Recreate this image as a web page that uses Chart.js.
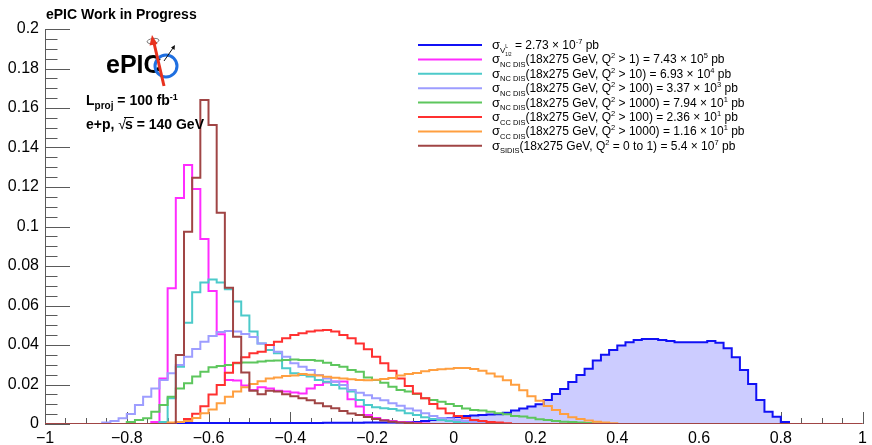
<!DOCTYPE html>
<html>
<head>
<meta charset="utf-8">
<title>ePIC Work in Progress</title>
<script src="https://cdn.jsdelivr.net/npm/chart.js@4.4.1/dist/chart.umd.min.js"></script>
<style>
  html, body { margin: 0; padding: 0; background: #fff; }
  #wrap { width: 872px; height: 445px; }
</style>
</head>
<body>
<div id="wrap"><canvas id="etaChart" width="872" height="445"></canvas></div>
<script>
// 100 bins of 0.02 between -1 and 1
const X_MIN = -1;
const X_MAX = 1;
const BIN_W = 0.02;
const N_BINS = 100;

const xTicks = [-1, -0.8, -0.6, -0.4, -0.2, 0, 0.2, 0.4, 0.6, 0.8, 1];
const yTicks = [0, 0.02, 0.04, 0.06, 0.08, 0.1, 0.12, 0.14, 0.16, 0.18, 0.2];

// each histogram: low edge of its first listed bin + normalised counts
const sigFrom = -0.70;
const sigCounts = [
  0.0004, 0.0004, 0.0005, 0.0005, 0.0005, 0.0005, 0.0005, 0.0005, 0.0005, 0.0005,
  0.0005, 0.0005, 0.0005, 0.0005, 0.0005, 0.0005, 0.0005, 0.0005, 0.0005, 0.0006,
  0.0006, 0.0006, 0.0006, 0.0006, 0.0007, 0.0007, 0.0007, 0.0008, 0.0008, 0.0009,
  0.001, 0.0015, 0.002, 0.0025, 0.003, 0.0035, 0.004, 0.0043, 0.0046, 0.0048,
  0.005, 0.0057, 0.0068, 0.0079, 0.0088, 0.0100, 0.0122, 0.0152, 0.0177, 0.0213,
  0.0248, 0.028, 0.0321, 0.0351, 0.0375, 0.0398, 0.0414, 0.0425, 0.043, 0.043,
  0.0425, 0.042, 0.0414, 0.0414, 0.0414, 0.0414, 0.042, 0.0412, 0.0383, 0.0338,
  0.0273, 0.0203, 0.0122, 0.0062, 0.0037, 0.001
];

const nc1From = -0.74;
const nc1Counts = [
  0.001, 0.0231, 0.0687, 0.1144, 0.1311, 0.119, 0.0937, 0.0673, 0.0454, 0.0223,
  0.022, 0.0195, 0.0172, 0.0186, 0.018, 0.0168, 0.0164, 0.016, 0.0155, 0.018,
  0.0197, 0.021, 0.0215, 0.0215, 0.0125, 0.0088, 0.0046, 0.003, 0.002, 0.0015,
  0.001, 0.0007, 0.0005, 0.0003
];

const nc10From = -0.72;
const nc10Counts = [
  0.001, 0.013, 0.029, 0.0513, 0.0667, 0.0717, 0.0732, 0.0717, 0.0682, 0.062,
  0.0549, 0.0468, 0.0408, 0.0375, 0.0358, 0.0282, 0.0257, 0.0248, 0.024, 0.0223,
  0.0214, 0.0197, 0.018, 0.0164, 0.0122, 0.0096, 0.0085, 0.008, 0.0076, 0.0068,
  0.0054, 0.0046, 0.0034, 0.0025, 0.002, 0.0015, 0.001, 0.0007, 0.0005, 0.0003
];

const nc100From = -0.86;
const nc100Counts = [
  0.0008, 0.0015, 0.0029, 0.0051, 0.0096, 0.0138, 0.018, 0.0223, 0.0257, 0.0299,
  0.0341, 0.038, 0.0417, 0.0446, 0.0466, 0.0471, 0.0468, 0.0456, 0.044, 0.0408,
  0.040, 0.0366, 0.0341, 0.0307, 0.029, 0.0273, 0.0248, 0.0231, 0.0214, 0.0197,
  0.0172, 0.0158, 0.0145, 0.013, 0.012, 0.0105, 0.0093, 0.0079, 0.0068, 0.0054,
  0.004, 0.003, 0.0028, 0.002, 0.0015, 0.001, 0.0007, 0.0004
];

const nc1000From = -0.80;
const nc1000Counts = [
  0.001, 0.002, 0.0029, 0.0062, 0.0096, 0.0138, 0.018, 0.0206, 0.024, 0.0265,
  0.0287, 0.0294, 0.0299, 0.0307, 0.0311, 0.0312, 0.0316, 0.032, 0.0322, 0.0324,
  0.0326, 0.0324, 0.0324, 0.032, 0.031, 0.0299, 0.029, 0.0273, 0.0265, 0.0236,
  0.0223, 0.0209, 0.0189, 0.0172, 0.0165, 0.0152, 0.013, 0.0122, 0.0113, 0.0101,
  0.0091, 0.0079, 0.0071, 0.0068, 0.0062, 0.0054, 0.005, 0.004, 0.0038, 0.0032,
  0.0024, 0.002, 0.0015, 0.0012, 0.001, 0.0007, 0.0005, 0.0003
];

const cc100From = -0.68;
const cc100Counts = [
  0.001, 0.0025, 0.0052, 0.009, 0.015, 0.0197, 0.026, 0.031, 0.0338, 0.0358,
  0.0366, 0.040, 0.0417, 0.0434, 0.0451, 0.0459, 0.0468, 0.0473, 0.0476, 0.0468,
  0.0451, 0.0434, 0.0408, 0.0378, 0.0341, 0.0307, 0.027, 0.0231, 0.0192, 0.0155,
  0.013, 0.0101, 0.0079, 0.0055, 0.004, 0.003, 0.002, 0.0015, 0.001, 0.0007,
  0.0004
];

const cc1000From = -0.70;
const cc1000Counts = [
  0.0008, 0.001, 0.0015, 0.003, 0.0054, 0.0074, 0.0105, 0.0138, 0.0164, 0.0186,
  0.0202, 0.0216, 0.0231, 0.0236, 0.0243, 0.0246, 0.0253, 0.0249, 0.0246, 0.0239,
  0.0234, 0.0231, 0.0226, 0.0223, 0.0221, 0.0224, 0.0228, 0.0233, 0.0246, 0.0253,
  0.0258, 0.0267, 0.0273, 0.0277, 0.028, 0.0283, 0.0284, 0.0279, 0.0269, 0.0256,
  0.0241, 0.0221, 0.0199, 0.0171, 0.0141, 0.0118, 0.0091, 0.0071, 0.0051, 0.0034,
  0.0025, 0.0018, 0.0012, 0.0008, 0.0004
];

const sidisFrom = -0.68;
const sidisCounts = [
  0.0349, 0.0974, 0.1247, 0.164, 0.1514, 0.107, 0.069, 0.0442, 0.0261, 0.0168,
  0.0151, 0.0168, 0.0164, 0.0151, 0.014, 0.013, 0.012, 0.0105, 0.009, 0.008,
  0.0066, 0.0053, 0.0045, 0.0035, 0.0025, 0.0018, 0.0012, 0.0008, 0.0005, 0.0003
];

const FONT = "'Liberation Sans', Arial, Helvetica, sans-serif";
const AXIS_COLOR = '#5a5a5a';
const SIG_FILL = '#ccccff';

// drawing order follows the list: first one at the bottom, last one on top
const series = [
  { from: sigFrom, counts: sigCounts, color: '#1111f5' },
  { from: nc1From, counts: nc1Counts, color: '#ff2cff' },
  { from: nc10From, counts: nc10Counts, color: '#4ccaca' },
  { from: nc100From, counts: nc100Counts, color: '#9d9dff' },
  { from: nc1000From, counts: nc1000Counts, color: '#5dc65d' },
  { from: cc100From, counts: cc100Counts, color: '#ff3030' },
  { from: cc1000From, counts: cc1000Counts, color: '#ff9f40' },
  { from: sidisFrom, counts: sidisCounts, color: '#a04545' },
];

function fillBins(from, counts) {
  const out = new Array(N_BINS).fill(0);
  const first = Math.round((from - X_MIN) / BIN_W);
  counts.forEach((c, i) => { out[first + i] = c; });
  return out;
}

// one point per low bin edge, plus the closing edge; drawn with stepped 'before'
function histPoints(from, counts) {
  const full = fillBins(from, counts);
  const pts = full.map((c, i) => ({ x: X_MIN + i * BIN_W, y: c }));
  pts.push({ x: X_MAX, y: full[N_BINS - 1] });
  return pts;
}

// -- rich text (sub/superscripts) -------------------------------------------
const txt = (t, size = 12) => ({ t, size });
const lo = (t, size = 7.5) => ({ t, size, dy: 3.5 });
const hi = (t, size = 7.5) => ({ t, size, dy: -5 });
const SIGMA = { t: 'σ', size: 13 };

function drawRich(ctx, x, y, parts, bold = false) {
  for (const p of parts) {
    ctx.font = `${p.bold ?? bold ? 'bold ' : ''}${p.size}px ${FONT}`;
    ctx.fillText(p.t, x, y + (p.dy || 0));
    if (p.adv !== false) x += ctx.measureText(p.t).width;
  }
  return x;
}

const legendRows = [
  [SIGMA, { t: 'V', size: 8, dy: 4 }, { t: 'L', size: 5, dy: -1, adv: false }, { t: '1/2', size: 4.5, dy: 7 },
    txt(' = 2.73 × 10'), hi('-7'), txt(' pb')],
  [SIGMA, lo('NC DIS'), txt('(18x275 GeV, Q'), hi('2'), txt(' > 1) = 7.43 × 10'), hi('5'), txt(' pb')],
  [SIGMA, lo('NC DIS'), txt('(18x275 GeV, Q'), hi('2'), txt(' > 10) = 6.93 × 10'), hi('4'), txt(' pb')],
  [SIGMA, lo('NC DIS'), txt('(18x275 GeV, Q'), hi('2'), txt(' > 100) = 3.37 × 10'), hi('3'), txt(' pb')],
  [SIGMA, lo('NC DIS'), txt('(18x275 GeV, Q'), hi('2'), txt(' > 1000) = 7.94 × 10'), hi('1'), txt(' pb')],
  [SIGMA, lo('CC DIS'), txt('(18x275 GeV, Q'), hi('2'), txt(' > 100) = 2.36 × 10'), hi('1'), txt(' pb')],
  [SIGMA, lo('CC DIS'), txt('(18x275 GeV, Q'), hi('2'), txt(' > 1000) = 1.16 × 10'), hi('1'), txt(' pb')],
  [SIGMA, lo('SIDIS'), txt('(18x275 GeV, Q'), hi('2'), txt(' = 0 to 1) = 5.4 × 10'), hi('7'), txt(' pb')],
];

function drawLogo(ctx) {
  ctx.save();
  ctx.fillStyle = '#000';
  ctx.font = `bold 25px ${FONT}`;
  ctx.fillText('ePIC', 106, 73);

  ctx.strokeStyle = '#1f6fe0';
  ctx.lineWidth = 3;
  ctx.beginPath();
  ctx.arc(166, 66, 11, 0, Math.PI * 2);
  ctx.stroke();

  // spin ellipse + red arrow
  ctx.strokeStyle = '#777';
  ctx.lineWidth = 1;
  ctx.beginPath();
  ctx.ellipse(153, 41, 6, 2.5, -0.15, 0, Math.PI * 2);
  ctx.stroke();
  ctx.strokeStyle = '#e8321e';
  ctx.fillStyle = '#e8321e';
  ctx.lineWidth = 3;
  ctx.beginPath();
  ctx.moveTo(164, 86);
  ctx.lineTo(154, 43);
  ctx.stroke();
  ctx.beginPath();
  ctx.moveTo(152, 35);
  ctx.lineTo(157.5, 44);
  ctx.lineTo(149.5, 45.5);
  ctx.closePath();
  ctx.fill();

  // small scattered-electron arrow
  ctx.strokeStyle = '#111';
  ctx.fillStyle = '#111';
  ctx.lineWidth = 1;
  ctx.beginPath();
  ctx.moveTo(164, 61);
  ctx.lineTo(173, 48);
  ctx.stroke();
  ctx.beginPath();
  ctx.moveTo(175, 45);
  ctx.lineTo(174.5, 50);
  ctx.lineTo(171, 47.5);
  ctx.closePath();
  ctx.fill();
  ctx.restore();
}

function drawLabels(ctx) {
  ctx.save();
  ctx.fillStyle = '#000';
  ctx.textBaseline = 'alphabetic';
  ctx.font = `bold 14px ${FONT}`;
  ctx.fillText('ePIC Work in Progress', 46, 19);

  drawRich(ctx, 86, 105, [txt('L', 14), lo('proj', 10), txt(' = 100 fb', 14), hi('-1', 9)], true);

  let x = drawRich(ctx, 86, 129, [txt('e+p, ', 14)], true);
  ctx.font = `14px ${FONT}`;
  ctx.fillText('√', x, 129);
  x += ctx.measureText('√').width - 1;
  ctx.font = `bold 14px ${FONT}`;
  const sw = ctx.measureText('s').width;
  ctx.fillText('s', x, 129);
  ctx.fillRect(x - 1, 117, sw + 2, 1);
  drawRich(ctx, x + sw, 129, [txt(' = 140 GeV', 14)], true);
  ctx.restore();
}

function drawLegend(ctx) {
  const x0 = 418, x1 = 482, tx = 492, top = 45, row = 14.4;
  ctx.save();
  ctx.textBaseline = 'alphabetic';
  legendRows.forEach((parts, i) => {
    const y = top + i * row;
    ctx.strokeStyle = series[i].color;
    ctx.lineWidth = 2;
    ctx.beginPath();
    ctx.moveTo(x0, y);
    ctx.lineTo(x1, y);
    ctx.stroke();
    ctx.fillStyle = '#000';
    drawRich(ctx, tx, y + 4, parts);
  });
  ctx.restore();
}

// ROOT-style axes: ticks pointing into the frame, minor ticks between labels
const X_MINOR = 0.05;
const Y_MINOR = 0.005;

const rootFrame = {
  id: 'rootFrame',
  beforeDatasetsDraw(chart) {
    const { ctx, chartArea: a, scales: { x, y } } = chart;
    ctx.save();
    ctx.strokeStyle = AXIS_COLOR;
    ctx.lineWidth = 1;
    ctx.beginPath();
    ctx.moveTo(a.left + 0.5, a.top);
    ctx.lineTo(a.left + 0.5, a.bottom);
    ctx.moveTo(a.left, a.bottom - 0.5);
    ctx.lineTo(a.right, a.bottom - 0.5);
    const ny = Math.round((yTicks[yTicks.length - 1] - yTicks[0]) / Y_MINOR);
    for (let k = 0; k <= ny; k++) {
      const py = Math.round(y.getPixelForValue(yTicks[0] + k * Y_MINOR)) + 0.5;
      ctx.moveTo(a.left, py);
      ctx.lineTo(a.left + (k % 4 === 0 ? 25 : 12.5), py);
    }
    const nx = Math.round((X_MAX - X_MIN) / X_MINOR);
    for (let k = 0; k <= nx; k++) {
      const px = Math.round(x.getPixelForValue(X_MIN + k * X_MINOR)) + 0.5;
      ctx.moveTo(px, a.bottom);
      ctx.lineTo(px, a.bottom - (k % 4 === 0 ? 12 : 6));
    }
    ctx.stroke();
    ctx.restore();
  },
  afterDraw(chart) {
    const ctx = chart.ctx;
    drawLabels(ctx);
    drawLogo(ctx);
    drawLegend(ctx);
  },
};

const fmt = (v) => {
  const r = Math.round(v * 100) / 100;
  return r < 0 ? '\u2212' + String(-r) : String(r);
};

new Chart(document.getElementById('etaChart'), {
  type: 'line',
  data: {
    datasets: series.map((s, i) => ({
      data: histPoints(s.from, s.counts),
      borderColor: s.color,
      borderWidth: 2,
      stepped: 'before',
      pointRadius: 0,
      fill: i === 0 ? 'origin' : false,
      backgroundColor: i === 0 ? SIG_FILL : 'transparent',
      order: series.length - i,
    })),
  },
  options: {
    responsive: false,
    animation: false,
    events: [],
    layout: { padding: { top: 29, right: 4.5, left: 0, bottom: 0 } },
    plugins: { legend: { display: false }, tooltip: { enabled: false } },
    scales: {
      x: {
        type: 'linear', min: X_MIN, max: X_MAX,
        afterBuildTicks: (s) => { s.ticks = xTicks.map((value) => ({ value })); },
        afterFit: (s) => { s.height = 21; },
        grid: { display: false, drawTicks: false },
        border: { display: false },
        ticks: {
          autoSkip: false, maxRotation: 0, padding: 5, color: '#000',
          font: { family: FONT, size: 16 }, callback: fmt,
        },
      },
      y: {
        min: yTicks[0], max: yTicks[yTicks.length - 1],
        afterBuildTicks: (s) => { s.ticks = yTicks.map((value) => ({ value })); },
        afterFit: (s) => { s.width = 45; },
        grid: { display: false, drawTicks: false },
        border: { display: false },
        ticks: {
          padding: 6, color: '#000',
          font: { family: FONT, size: 16 }, callback: fmt,
        },
      },
    },
  },
  plugins: [rootFrame],
});
</script>
</body>
</html>
